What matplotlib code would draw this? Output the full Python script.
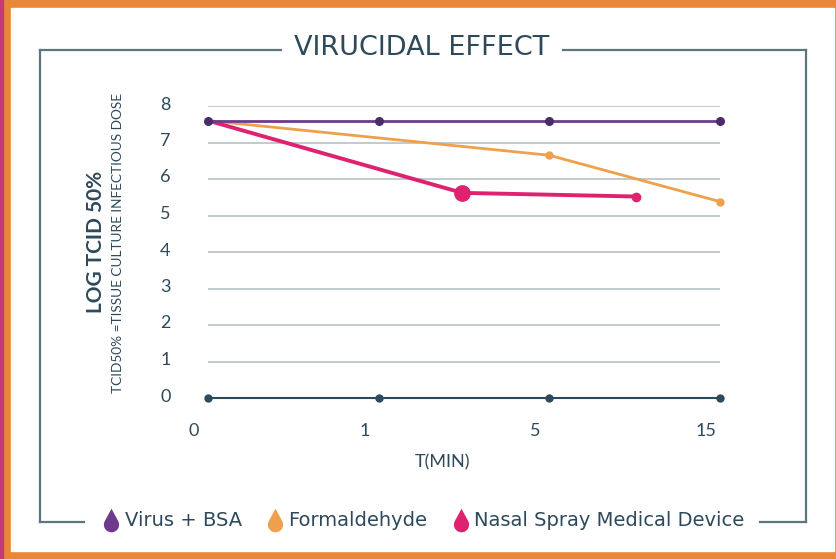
import matplotlib
matplotlib.use("Agg")
import matplotlib.pyplot as plt
import numpy as np
from matplotlib.lines import Line2D
from matplotlib.path import Path
from matplotlib.patches import Rectangle
from matplotlib.transforms import ScaledTranslation

# data
time_labels = ["0", "1", "5", "15"]
y_ticks = [0, 1, 2, 3, 4, 5, 6, 7, 8]

virus_pos = [0, 1, 2, 3]
virus_vals = [7.6, 7.6, 7.6, 7.6]

formaldehyde_pos = [0, 2, 3]
formaldehyde_vals = [7.6, 6.65, 5.38]

nasal_pos = [0, 1.49, 2.51]
nasal_vals = [7.6, 5.62, 5.52]

series_names = ["Virus + BSA", "Formaldehyde", "Nasal Spray Medical Device"]

PURPLE = "#6e3a8e"
PURPLE_DOT = "#4a2c68"
ORANGE = "#eea04c"
PINK = "#df2270"
SLATE = "#2e4a5a"
FRAME = "#5c7680"
GRID = "#bcc6c9"

W, H = 837, 559
fig = plt.figure(figsize=(W / 100, H / 100), dpi=100)
plt.rcParams["font.family"] = ["Lato", "DejaVu Sans"]


def fx(px):
    return px / W


def fy(py):
    return 1 - py / H


# orange border with pink edge
fig.patches.append(Rectangle((0, 0), 1, 1, transform=fig.transFigure,
                             color="#e8873a", zorder=-3))
fig.patches.append(Rectangle((0, 0), fx(3), 1, transform=fig.transFigure,
                             color="#c23a7c", zorder=-2))
fig.patches.append(Rectangle((fx(11), fy(551)), fx(834 - 11), (551 - 8) / H,
                             transform=fig.transFigure, color="white", zorder=-2))

# inner frame with gaps for title and legend
frame_kw = dict(transform=fig.transFigure, color=FRAME, lw=1.6, zorder=1)
fig.lines.append(Line2D([fx(40), fx(40)], [fy(50), fy(522)], **frame_kw))
fig.lines.append(Line2D([fx(806), fx(806)], [fy(50), fy(522)], **frame_kw))
fig.lines.append(Line2D([fx(40), fx(281)], [fy(50), fy(50)], **frame_kw))
fig.lines.append(Line2D([fx(563), fx(806)], [fy(50), fy(50)], **frame_kw))
fig.lines.append(Line2D([fx(40), fx(84)], [fy(522), fy(522)], **frame_kw))
fig.lines.append(Line2D([fx(760), fx(806)], [fy(522), fy(522)], **frame_kw))

fig.text(fx(422), fy(48), "VIRUCIDAL EFFECT", ha="center", va="center",
         fontsize=19.5, color=SLATE, family="DejaVu Sans")

ax = fig.add_axes([fx(208), fy(398), fx(720 - 208), (398 - 106) / H])
ax.set_xlim(0, 3)
ax.set_ylim(0, 8)
for s in ax.spines.values():
    s.set_visible(False)
ax.patch.set_alpha(0)

# grid lines
ax.hlines(y_ticks[1:], 0, 3, color=GRID, lw=1.3, zorder=1)
# zero line with dots
ax.plot(range(len(time_labels)), [0] * len(time_labels), color=SLATE, lw=1.5,
        marker="o", markersize=5, clip_on=False, zorder=2)

# series
ax.plot(formaldehyde_pos, formaldehyde_vals, color=ORANGE, lw=2, zorder=3,
        clip_on=False)
ax.plot(formaldehyde_pos[1:], formaldehyde_vals[1:], "o", color=ORANGE,
        markersize=5, zorder=3, clip_on=False)
ax.plot(nasal_pos, nasal_vals, color=PINK, lw=2.8, zorder=4, clip_on=False)
ax.plot(nasal_pos[1], nasal_vals[1], "o", color=PINK, markersize=11, zorder=4)
ax.plot(nasal_pos[2], nasal_vals[2], "o", color=PINK, markersize=6, zorder=4)
ax.plot(virus_pos, virus_vals, color=PURPLE, lw=2, zorder=5, clip_on=False)
ax.plot(virus_pos, virus_vals, "o", color=PURPLE_DOT, markersize=5.5, zorder=6,
        clip_on=False)

ax.set_xticks(range(len(time_labels)))
ax.set_xticklabels(time_labels)
ax.set_yticks(y_ticks)
ax.set_yticklabels([str(v) for v in y_ticks])
ax.tick_params(axis="both", length=0, labelsize=13, labelcolor=SLATE)
ax.tick_params(axis="x", pad=18)
ax.tick_params(axis="y", pad=27)
for lbl in ax.get_xticklabels():
    lbl.set_transform(lbl.get_transform() + ScaledTranslation(-10 / 72, 0, fig.dpi_scale_trans))
for lbl in ax.get_yticklabels():
    lbl.set_transform(lbl.get_transform() + ScaledTranslation(0, 3 / 100, fig.dpi_scale_trans))

fig.text(fx(443), fy(462), "T(MIN)", ha="center", va="center", fontsize=13,
         color=SLATE)
fig.text(fx(96), fy(242), "LOG TCID 50%", rotation=90, ha="center",
         va="center", fontsize=15, color=SLATE, fontweight="bold")
fig.text(fx(118), fy(243), "TCID50% =TISSUE CULTURE INFECTIOUS DOSE",
         rotation=90, ha="center", va="center", fontsize=9.8, color=SLATE)

# drop-shaped legend marker
arc = Path.arc(150, 390)
verts = np.vstack([arc.vertices, [[0, 2.1]], [arc.vertices[0]]])
verts[:, 1] -= 0.55
codes = list(arc.codes) + [Path.LINETO, Path.CLOSEPOLY]
drop = Path(verts, codes)

handles = [Line2D([], [], marker=drop, linestyle="None", color=c,
                  markersize=17, markeredgewidth=0)
           for c in [PURPLE, ORANGE, PINK]]
leg = fig.legend(handles, series_names, loc="center",
                 bbox_to_anchor=(fx(422), fy(521)), ncol=3, frameon=False,
                 prop={"family": "DejaVu Sans", "size": 14},
                 handletextpad=0.1, columnspacing=1.1,
                 handlelength=1.2, borderpad=0)
for t in leg.get_texts():
    t.set_color(SLATE)

fig.savefig("out.png", dpi=100)
